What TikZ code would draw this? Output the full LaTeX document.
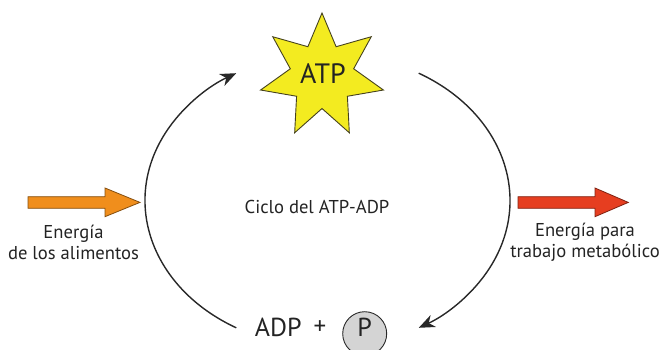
\documentclass[tikz,border=0pt]{standalone}
\usepackage{fontspec}
\setmainfont{PT Sans}
\usetikzlibrary{arrows.meta,calc}
\definecolor{starfill}{RGB}{243,235,32}
\definecolor{starline}{RGB}{70,66,30}
\definecolor{arcgray}{RGB}{40,40,40}
\definecolor{txtgray}{RGB}{35,35,35}
\definecolor{pgray}{RGB}{212,212,212}
\definecolor{foodorange}{RGB}{240,142,28}
\definecolor{workred}{RGB}{230,62,32}

\begin{document}
\begin{tikzpicture}[x=1pt, y=1pt, >={Stealth[length=16pt,width=13pt,inset=5pt]},
	lbl/.style={font=\fontsize{18.6}{21}\selectfont, text=txtgray, align=center, inner sep=0pt},
	cyc/.style={->, line width=1.4pt, draw=arcgray},
	blockarrow/.style={draw=#1!55!black, line width=0.8pt, fill=#1}]
	\useasboundingbox (0,0) rectangle (665,349);
	\coordinate (ctr) at (327.5,148.5);
	\coordinate (starc) at (322,273);
	% seven pointed star behind the ATP label
	\draw[draw=starline, fill=starfill, line width=0.9pt, line join=miter]
		($(starc)+(90:63)$) \foreach \i [evaluate=\i as \r using {mod(\i,2)==0 ? 63 : 32.5}] in {1,...,13} { -- ($(starc)+(90+\i*360/14:\r)$) } -- cycle;
	\node[text=txtgray, font=\fontsize{28}{30}\selectfont, inner sep=0pt] (atp) at (323,275.7) {ATP};
	\node[anchor=base, text=txtgray, font=\fontsize{26}{28}\selectfont, inner sep=0pt] (adp) at (278.3,12.3) {ADP};
	\node[text=txtgray, font=\fontsize{25}{27}\selectfont, inner sep=0pt] (plus) at (320,21) {+};
	\node[circle, draw=arcgray, fill=pgray, line width=0.9pt, minimum size=44pt, inner sep=0pt, text height=18.4pt, text depth=12pt, text=txtgray, font=\fontsize{26}{28}\selectfont] (pho) at (364.7,15.3) {P};
	\node[lbl, anchor=base] (cyclbl) at (317,135.7) {Ciclo del ATP-ADP};
	\node[lbl] (food) at (73.5,106.5) {Energía\\de los alimentos};
	\node[lbl] (work) at (585,106.5) {Energía para\\trabajo metabólico};
	% block arrows in and out of the cycle
	\draw[blockarrow=foodorange] (28,140.7) -- ++(77,0) -- ++(0,-8.4) -- (140,146.6) -- (105,161) -- ++(0,-8.7) -- ++(-77,0) -- cycle;
	\draw[blockarrow=workred] (518,140.7) -- ++(77,0) -- ++(0,-8.4) -- (628.3,146.6) -- (595,161) -- ++(0,-8.7) -- ++(-77,0) -- cycle;
	% the two halves of the cycle
	\draw[cyc] (ctr) ++(240:182.5 and 147) arc[start angle=240, end angle=120, x radius=182.5, y radius=147];
	\draw[cyc] (ctr) ++(60:182.5 and 147) arc[start angle=60, end angle=-60, x radius=182.5, y radius=147];
\end{tikzpicture}
\end{document}
